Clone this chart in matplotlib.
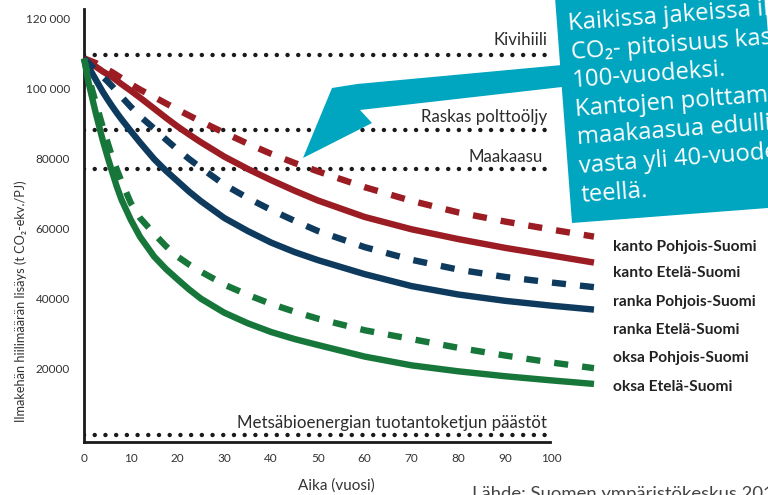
import matplotlib
matplotlib.use("Agg")
import matplotlib.pyplot as plt
from matplotlib.patches import Polygon
import numpy as np

plt.rcParams['font.family'] = ['Lato', 'DejaVu Sans']

W, H = 768, 495

# Data
years = [0, 1, 2.5, 4, 5, 6, 7, 8, 10, 12, 15, 17.5, 20, 22.5, 25, 30, 35, 40, 45, 50,
         60, 70, 80, 90, 100, 109]

kanto_pohjois = [108500, 108000, 107200, 106000, 105300, 104600, 103750, 102900, 101200, 99600,
                 97500, 95700, 93900, 92200, 90500, 87300, 84200, 81300, 78700, 76300,
                 71800, 67900, 64600, 62000, 59700, 57700]
kanto_etela = [108500, 107600, 106200, 104800, 104000, 103200, 102200, 101200, 99300, 97300,
               94200, 91600, 89100, 86800, 84600, 80500, 77000, 73800, 70800, 68000,
               63300, 59800, 57000, 54500, 52300, 50300]
ranka_pohjois = [108500, 107200, 105200, 103300, 102000, 100600, 99100, 97600, 94700, 92000,
                 88500, 85400, 82500, 79800, 77300, 72500, 68700, 65300, 62200, 59300,
                 54700, 51100, 48300, 46200, 44600, 43300]
ranka_etela = [108500, 106000, 102500, 99000, 96900, 94900, 93000, 91200, 87800, 84500,
               79800, 76500, 73500, 70500, 67800, 63000, 59300, 56000, 53300, 51000,
               47000, 43600, 41200, 39400, 38000, 36900]
oksa_pohjois = [108500, 103000, 96000, 89000, 84700, 80500, 76900, 73500, 67300, 63000,
                58500, 55000, 52000, 49700, 47700, 44000, 41100, 38500, 36300, 34300,
                31000, 28500, 26000, 23800, 21800, 20200]
oksa_etela = [108500, 101500, 93000, 85200, 80600, 76200, 72000, 68300, 62500, 57600,
              52000, 48500, 45500, 42600, 40000, 36000, 33000, 30500, 28500, 26800,
              23500, 21000, 19300, 17900, 16700, 15700]

series_names = ['kanto Pohjois-Suomi', 'kanto Etelä-Suomi', 'ranka Pohjois-Suomi',
                'ranka Etelä-Suomi', 'oksa Pohjois-Suomi', 'oksa Etelä-Suomi']
series_values = [kanto_pohjois, kanto_etela, ranka_pohjois, ranka_etela, oksa_pohjois, oksa_etela]

ref_names = ['Kivihiili', 'Raskas polttoöljy', 'Maakaasu', 'Metsäbioenergian tuotantoketjun päästöt']
ref_values = [109500, 88200, 77100, 1140]

x_ticks = [0, 10, 20, 30, 40, 50, 60, 70, 80, 90, 100]
y_ticks = [20000, 40000, 60000, 80000, 100000, 120000]
y_tick_labels = ['20000', '40000', '60000', '80000', '100 000', '120 000']

callout_lines = ['Kaikissa jakeissa ilmakehän', 'CO₂- pitoisuus kasvaa yli', '100-vuodeksi.',
                 'Kantojen polttaminen on', 'maakaasua edullisempaa',
                 'vasta yli 40-vuoden aikajän-', 'teellä.']

# Styling
red, blue, green = '#9b1c22', '#0e3a5e', '#17773a'
cyan = '#00a5bf'
colors = [red, red, blue, blue, green, green]
styles = [(0, (2.2, 2.2)), '-', (0, (2.2, 2.2)), '-', (0, (2.2, 2.2)), '-']
text_col = '#2b2b2b'


def px(x, y):
    # pixel position (from top-left) -> figure fraction
    return (x / W, 1 - y / H)


fig = plt.figure(figsize=(W / 100, H / 100), dpi=100)
ax = fig.add_axes([84 / W, 53 / H, 524 / W, 433 / H])
ax.set_xlim(0, 112)
ax.set_ylim(-855, 122600)

# reference emission levels (dotted)
label_offsets = [7.5, 5.5, 5, 5]
for name, val, off in zip(ref_names, ref_values, label_offsets):
    ax.plot([0, 99.3], [val, val], color='#1a1a1a', lw=3.2,
            linestyle=(0, (0.01, 2.4)), dash_capstyle='round', zorder=2)
    ax.annotate(name, xy=(99.3, val), xytext=(-1 if name != 'Maakaasu' else -4, off),
                textcoords='offset points', ha='right', va='baseline',
                fontsize=12.2, color=text_col)

# curves
for vals, c, ls in zip(series_values, colors, styles):
    ax.plot(years, vals, color=c, lw=4.6, linestyle=ls, dash_capstyle='butt',
            solid_capstyle='butt', solid_joinstyle='round', clip_on=False, zorder=3)

for s in ['top', 'right']:
    ax.spines[s].set_visible(False)
ax.spines['left'].set_linewidth(2)
ax.spines['bottom'].set_linewidth(2)
ax.spines['left'].set_color('#1a1a1a')
ax.spines['bottom'].set_color('#1a1a1a')
ax.spines['bottom'].set_bounds(0, 99.5)

ax.set_xticks(x_ticks)
ax.set_xticklabels([str(t) for t in x_ticks])
ax.set_yticks(y_ticks)
ax.set_yticklabels(y_tick_labels)
ax.tick_params(axis='both', length=0, labelsize=8.5, labelcolor='#333333')
ax.tick_params(axis='x', pad=8)
ax.tick_params(axis='y', pad=10)

fig.text(*px(21, 301), 'Ilmakehän hiilimäärän lisäys (t CO₂-ekv./PJ)', rotation=90,
         ha='center', va='center', fontsize=9.2, color='#333333')
fig.text(*px(336, 486), 'Aika (vuosi)', ha='center', va='center', fontsize=11, color='#333333')
fig.text(*px(472, 499), 'Lähde: Suomen ympäristökeskus 2011', ha='left', va='baseline',
         fontsize=13.3, color='#444444')

# series labels on the right
label_y = [247, 273, 302, 330, 358, 387]
for name, yy in zip(series_names, label_y):
    fig.text(*px(613, yy), name, ha='left', va='center', fontsize=11.2,
             fontweight='bold', color='#222222')

# callout box and arrow
box = [px(554, -16), px(572, 223), px(781, 207), px(763, -32)]
fig.add_artist(Polygon(box, closed=True, transform=fig.transFigure,
                       facecolor=cyan, edgecolor='none', zorder=5))
arrow = [px(303, 158), px(332, 88), px(357, 84), px(562, 65), px(562, 87),
         px(360, 110), px(372, 123)]
fig.add_artist(Polygon(arrow, closed=True, transform=fig.transFigure,
                       facecolor=cyan, edgecolor='none', zorder=5))

ang = 4.3
step = 28.7
for i, line in enumerate(callout_lines):
    x0 = 569 + i * step * np.sin(np.radians(ang))
    y0 = 30 + i * step * np.cos(np.radians(ang))
    fig.text(*px(x0, y0), line, ha='left', va='baseline', rotation=ang,
             rotation_mode='anchor', fontsize=17.2, color='white', zorder=6,
             family=['Open Sans', 'DejaVu Sans'])

fig.savefig('out.png', dpi=100)
